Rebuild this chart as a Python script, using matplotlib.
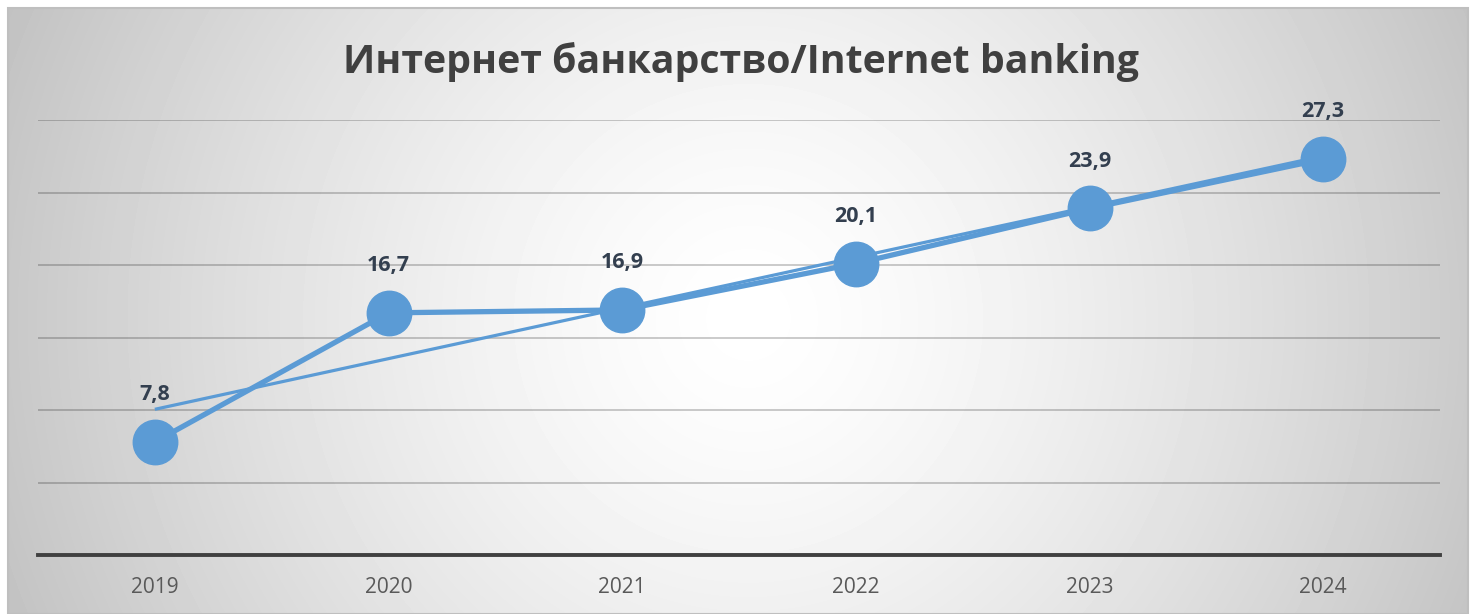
import numpy as np
import matplotlib
matplotlib.use("Agg")
import matplotlib.pyplot as plt
from matplotlib.patches import Rectangle

# data
years = ["2019", "2020", "2021", "2022", "2023", "2024"]
values = [7.8, 16.7, 16.9, 20.1, 23.9, 27.3]
labels = ["7,8", "16,7", "16,9", "20,1", "23,9", "27,3"]
grid_ticks = [5, 10, 15, 20, 25, 30]

blue = "#5b9bd5"

fig = plt.figure(figsize=(14.78, 6.14), dpi=100)
fig.patch.set_facecolor("white")

# radial gradient background of the chart area
bg = fig.add_axes([8 / 1478, 0, 1460 / 1478, 606 / 614])
W, H = 1460, 606
yy, xx = np.mgrid[0:H, 0:W]
d = np.sqrt((xx - 740) ** 2 + (yy - 310) ** 2) / 790
shade = 255 - 60 * np.clip(d, 0, 1.1) ** 1.4
bg.imshow(shade, cmap="gray", vmin=0, vmax=255, aspect="auto",
          extent=(0, 1, 0, 1))
bg.set_xlim(0, 1)
bg.set_ylim(0, 1)
bg.axis("off")
bg.add_patch(Rectangle((0, 0), 1, 1, fill=False, edgecolor="#bfbfbf",
                       lw=1.5, transform=bg.transAxes, clip_on=False))

ax = fig.add_axes([38 / 1478, 59 / 614, 1402 / 1478, 435 / 614])
ax.patch.set_alpha(0)
x = np.arange(len(years))

for t in grid_ticks:
    ax.axhline(t, color="black", alpha=0.22, lw=1.3, zorder=1)

ax.plot(x, values, color=blue, lw=3.8, marker="o", markersize=32,
        zorder=3, solid_capstyle="butt")

# linear trendline
k, b = np.polyfit(x, values, 1)
ax.plot(x, k * x + b, color=blue, lw=2.3, zorder=2, solid_capstyle="butt")

for xi, v, lab in zip(x, values, labels):
    ax.annotate(lab, (xi, v), xytext=(0, 34), textcoords="offset points",
                ha="center", va="center", fontsize=15.5, fontweight="bold",
                color="#333f4f", family="Open Sans", zorder=4)

ax.set_xlim(-0.5, len(years) - 0.5)
ax.set_ylim(0, 30)
ax.set_xticks(x)
ax.set_xticklabels(years, family="Open Sans", fontsize=15, color="#595959")
ax.set_yticks([])
ax.tick_params(axis="x", length=0, pad=16)
for s in ["top", "right", "left"]:
    ax.spines[s].set_visible(False)
ax.spines["bottom"].set_color("#404040")
ax.spines["bottom"].set_linewidth(2.8)

fig.text(741 / 1478, 1 - 62 / 614, "Интернет банкарство/Internet banking",
         ha="center", va="center", fontsize=28.3, fontweight="bold",
         color="#404040", family="Open Sans")

fig.savefig("out.png", dpi=100)
